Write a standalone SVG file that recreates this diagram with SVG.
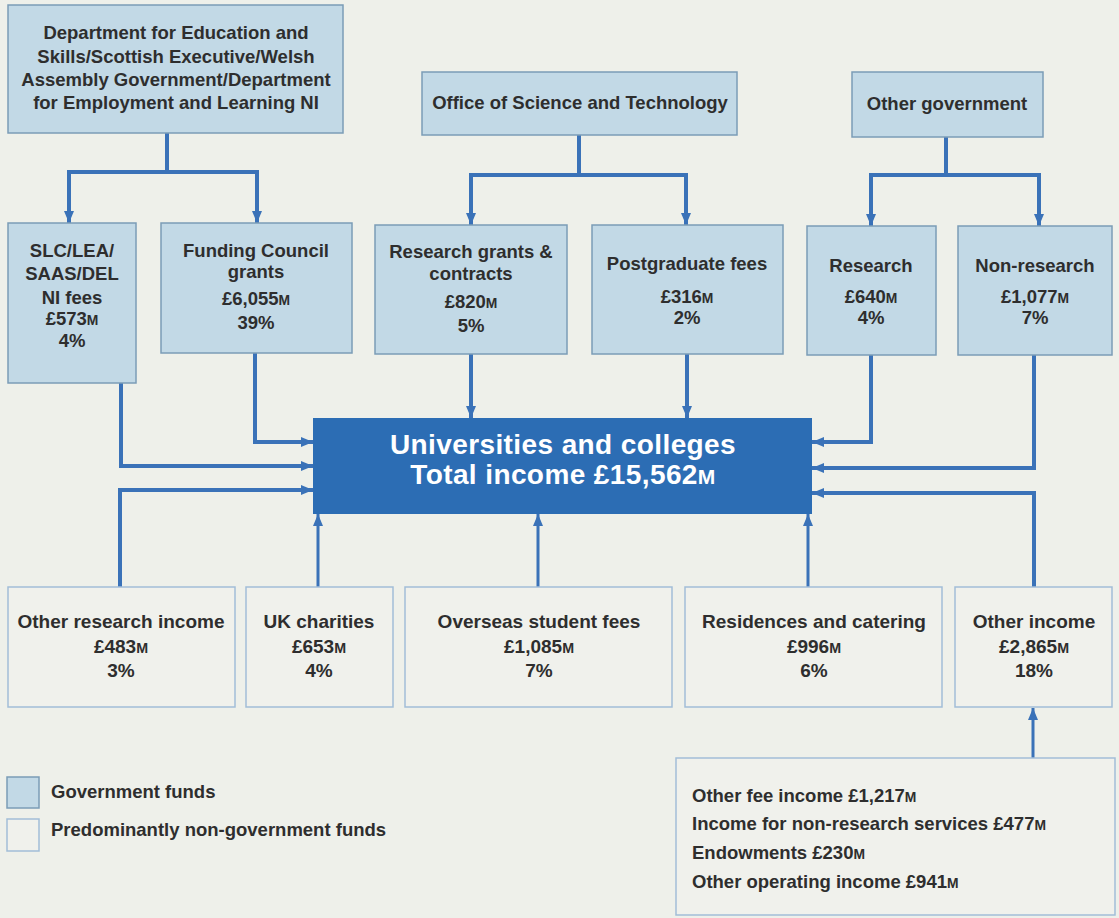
<svg xmlns="http://www.w3.org/2000/svg" width="1119" height="918" viewBox="0 0 1119 918">
  <style>
    .bg { fill: #eef0ea; }
    .gov { fill: #c2d9e6; stroke: #7b9cb7; stroke-width: 1.5; }
    .non { fill: #f0f1ec; stroke: #a2bdd8; stroke-width: 1.5; }
    .hub { fill: #2c6db4; }
    .t { font-family: "Liberation Sans", Arial, sans-serif; font-weight: bold; font-size: 18.5px; fill: #2e2e2e; text-anchor: middle; }
    .b { font-size: 19px; }
    .tl { text-anchor: start; }
    .ht { font-family: "Liberation Sans", Arial, sans-serif; font-weight: bold; font-size: 28px; letter-spacing: 0.4px; fill: #ffffff; text-anchor: middle; }
    .sc { font-size: 75%; }
    .c { fill: none; stroke: #3a72b8; stroke-width: 4; }
    .c2 { fill: none; stroke: #3a72b8; stroke-width: 3; }
    .arr { marker-end: url(#head); }
  </style>
  <defs>
    <marker id="head" viewBox="0 0 12 10" refX="12" refY="5" markerWidth="12" markerHeight="10" markerUnits="userSpaceOnUse" orient="auto">
      <path d="M0,0 L12,5 L0,10 z" fill="#3a72b8"/>
    </marker>
  </defs>

  <rect class="bg" x="0" y="0" width="1119" height="918"/>

  <!-- connectors -->
  <g id="connectors">
    <path class="c" d="M167,133 V172"/>
    <path class="c" d="M67,172 H259"/>
    <path class="c arr" d="M69,172 V223"/>
    <path class="c arr" d="M257,172 V223"/>

    <path class="c" d="M579,135 V175"/>
    <path class="c" d="M469,175 H688"/>
    <path class="c arr" d="M471,175 V225"/>
    <path class="c arr" d="M686,175 V225"/>

    <path class="c" d="M946,137 V175"/>
    <path class="c" d="M869,175 H1041"/>
    <path class="c arr" d="M871,175 V226"/>
    <path class="c arr" d="M1039,175 V226"/>

    <path class="c arr" d="M255,353 V442 H313"/>
    <path class="c arr" d="M121,383 V466 H313"/>
    <path class="c arr" d="M120,587 V490 H313"/>
    <path class="c arr" d="M471,354 V418"/>
    <path class="c arr" d="M687,354 V418"/>
    <path class="c arr" d="M871,355 V442 H812"/>
    <path class="c arr" d="M1034,355 V468 H812"/>
    <path class="c arr" d="M1034,587 V493 H812"/>

    <path class="c2 arr" d="M318,587 V514"/>
    <path class="c2 arr" d="M538,587 V514"/>
    <path class="c2 arr" d="M808,587 V514"/>
    <path class="c2 arr" d="M1033,758 V708"/>
  </g>

  <!-- government sources -->
  <g id="dept-education">
    <rect class="gov" x="8" y="5" width="335" height="128"/>
    <text class="t" x="176" y="39">Department for Education and</text>
    <text class="t" x="176" y="63">Skills/Scottish Executive/Welsh</text>
    <text class="t" x="176" y="86">Assembly Government/Department</text>
    <text class="t" x="176" y="109">for Employment and Learning NI</text>
  </g>
  <g id="office-science">
    <rect class="gov" x="422" y="72" width="315" height="63"/>
    <text class="t" x="580" y="109">Office of Science and Technology</text>
  </g>
  <g id="other-government">
    <rect class="gov" x="852" y="72" width="191" height="65"/>
    <text class="t" x="947" y="110">Other government</text>
  </g>

  <!-- government funding streams -->
  <g id="slc-fees">
    <rect class="gov" x="8" y="223" width="128" height="160"/>
    <text class="t" x="72" y="257">SLC/LEA/</text>
    <text class="t" x="72" y="280">SAAS/DEL</text>
    <text class="t" x="72" y="304">NI fees</text>
    <text class="t" x="72" y="325">£573<tspan class="sc">M</tspan></text>
    <text class="t" x="72" y="347">4%</text>
  </g>
  <g id="funding-council">
    <rect class="gov" x="161" y="223" width="191" height="130"/>
    <text class="t" x="256" y="257">Funding Council</text>
    <text class="t" x="256" y="278">grants</text>
    <text class="t" x="256" y="305">£6,055<tspan class="sc">M</tspan></text>
    <text class="t" x="256" y="329">39%</text>
  </g>
  <g id="research-grants">
    <rect class="gov" x="375" y="225" width="192" height="129"/>
    <text class="t" x="471" y="258">Research grants &amp;</text>
    <text class="t" x="471" y="280">contracts</text>
    <text class="t" x="471" y="308">£820<tspan class="sc">M</tspan></text>
    <text class="t" x="471" y="332">5%</text>
  </g>
  <g id="postgraduate-fees">
    <rect class="gov" x="592" y="225" width="191" height="129"/>
    <text class="t" x="687" y="270">Postgraduate fees</text>
    <text class="t" x="687" y="303">£316<tspan class="sc">M</tspan></text>
    <text class="t" x="687" y="324">2%</text>
  </g>
  <g id="research">
    <rect class="gov" x="807" y="226" width="129" height="129"/>
    <text class="t" x="871" y="272">Research</text>
    <text class="t" x="871" y="303">£640<tspan class="sc">M</tspan></text>
    <text class="t" x="871" y="324">4%</text>
  </g>
  <g id="non-research">
    <rect class="gov" x="958" y="226" width="154" height="129"/>
    <text class="t" x="1035" y="272">Non-research</text>
    <text class="t" x="1035" y="303">£1,077<tspan class="sc">M</tspan></text>
    <text class="t" x="1035" y="324">7%</text>
  </g>

  <!-- total -->
  <g id="universities">
    <rect class="hub" x="313" y="418" width="499" height="96"/>
    <text class="ht" x="563" y="454">Universities and colleges</text>
    <text class="ht" x="563" y="484">Total income £15,562<tspan class="sc">M</tspan></text>
  </g>

  <!-- non-government streams -->
  <g id="other-research-income">
    <rect class="non" x="8" y="587" width="227" height="120"/>
    <text class="t b" x="121" y="628">Other research income</text>
    <text class="t b" x="121" y="653">£483<tspan class="sc">M</tspan></text>
    <text class="t b" x="121" y="677">3%</text>
  </g>
  <g id="uk-charities">
    <rect class="non" x="246" y="587" width="147" height="120"/>
    <text class="t b" x="319" y="628">UK charities</text>
    <text class="t b" x="319" y="653">£653<tspan class="sc">M</tspan></text>
    <text class="t b" x="319" y="677">4%</text>
  </g>
  <g id="overseas-fees">
    <rect class="non" x="405" y="587" width="267" height="120"/>
    <text class="t b" x="539" y="628">Overseas student fees</text>
    <text class="t b" x="539" y="653">£1,085<tspan class="sc">M</tspan></text>
    <text class="t b" x="539" y="677">7%</text>
  </g>
  <g id="residences-catering">
    <rect class="non" x="685" y="587" width="257" height="120"/>
    <text class="t b" x="814" y="628">Residences and catering</text>
    <text class="t b" x="814" y="653">£996<tspan class="sc">M</tspan></text>
    <text class="t b" x="814" y="677">6%</text>
  </g>
  <g id="other-income">
    <rect class="non" x="955" y="587" width="157" height="120"/>
    <text class="t b" x="1034" y="628">Other income</text>
    <text class="t b" x="1034" y="653">£2,865<tspan class="sc">M</tspan></text>
    <text class="t b" x="1034" y="677">18%</text>
  </g>
  <g id="other-income-detail">
    <rect class="non" x="676" y="758" width="439" height="157"/>
    <text class="t tl" x="692" y="802">Other fee income £1,217<tspan class="sc">M</tspan></text>
    <text class="t tl" x="692" y="830">Income for non-research services £477<tspan class="sc">M</tspan></text>
    <text class="t tl" x="692" y="859">Endowments £230<tspan class="sc">M</tspan></text>
    <text class="t tl" x="692" y="888">Other operating income £941<tspan class="sc">M</tspan></text>
  </g>

  <!-- legend -->
  <g id="legend">
    <rect class="gov" x="7" y="777" width="32" height="31"/>
    <text class="t tl" x="51" y="798">Government funds</text>
    <rect class="non" x="7" y="819" width="32" height="32"/>
    <text class="t tl" x="51" y="836">Predominantly non-government funds</text>
  </g>
</svg>
